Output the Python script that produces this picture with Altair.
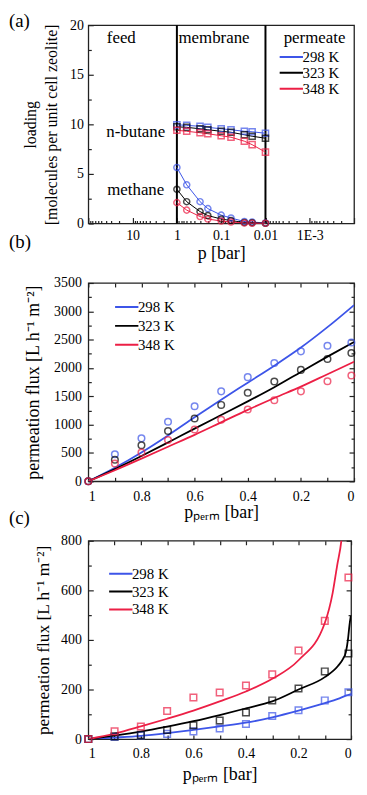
import altair as alt
import pandas as pd

FONT = "Liberation Serif"
TEMPS = ["298 K", "323 K", "348 K"]
COLORS = ["#3d55e8", "#000000", "#ec1f45"]

# ---------------- panel (a): loading profiles ----------------
p_a = [1, 0.6, 0.3, 0.2, 0.1, 0.06, 0.03, 0.02, 0.01]
butane_298 = [9.95, 9.9, 9.8, 9.7, 9.55, 9.45, 9.3, 9.25, 9.1]
butane_323 = [9.75, 9.7, 9.55, 9.45, 9.3, 9.2, 8.95, 8.8, 8.6]
butane_348 = [9.4, 9.3, 9.15, 9.05, 8.85, 8.7, 8.3, 7.95, 7.2]
methane_298 = [5.65, 3.9, 2.2, 1.5, 0.85, 0.55, 0.2, 0.15, 0.05]
methane_323 = [3.45, 2.2, 1.2, 0.8, 0.45, 0.3, 0.1, 0.08, 0.03]
methane_348 = [2.1, 1.35, 0.7, 0.45, 0.25, 0.15, 0.05, 0.03, 0.02]
boundaries_a = [1, 0.01]
region_labels = ["feed", "membrane", "permeate"]
region_p = [18, 0.145, 0.00078]
region_y = [18.7, 18.7, 18.7]
species_labels = ["n-butane", "methane"]
species_p = [8.5, 8.5]
species_y = [9.27, 3.33]

# ---------------- panel (b): circles + model lines ----------------
p_b = [1, 0.9, 0.8, 0.7, 0.6, 0.5, 0.4, 0.3, 0.2, 0.1, 0.01]
flux_b_298 = [0, 478, 758, 1050, 1324, 1587, 1838, 2088, 2293, 2392, 2450]
flux_b_323 = [0, 379, 636, 887, 1108, 1348, 1563, 1762, 1966, 2158, 2263]
flux_b_348 = [0, 315, 508, 729, 915, 1085, 1266, 1429, 1587, 1767, 1867]
p_line_b = [1, 0.9, 0.8, 0.7, 0.6, 0.5, 0.4, 0.3, 0.2, 0.1, 0]
model_b_298 = [0, 240, 510, 810, 1130, 1440, 1740, 2040, 2360, 2720, 3110]
model_b_323 = [0, 215, 445, 685, 930, 1170, 1410, 1660, 1930, 2200, 2460]
model_b_348 = [0, 195, 400, 610, 820, 1040, 1260, 1470, 1670, 1890, 2110]

# ---------------- panel (c): squares + model lines ----------------
p_c = [1, 0.9, 0.8, 0.7, 0.6, 0.5, 0.4, 0.3, 0.2, 0.1, 0.01]
flux_c_298 = [0, 9, 15, 21, 31, 43, 61, 93, 116, 156, 189]
flux_c_323 = [0, 11, 17, 37, 56, 75, 107, 156, 204, 273, 345]
flux_c_348 = [0, 31, 51, 113, 168, 188, 216, 261, 357, 477, 652]
p_line_c_298 = [1, 0.9, 0.8, 0.7, 0.6, 0.5, 0.4, 0.3, 0.2, 0.1, 0.05, 0.02, 0]
model_c_298 = [0, 6, 13, 24, 37, 51, 66, 88, 115, 145, 162, 175, 182]
p_line_c_323 = [1, 0.9, 0.8, 0.7, 0.6, 0.5, 0.4, 0.3, 0.2, 0.1, 0.05, 0.03, 0.02, 0.012, 0.006, 0.001]
model_c_323 = [0, 14, 30, 50, 72, 97, 124, 152, 200, 250, 295, 325, 350, 400, 460, 497]
p_line_c_348 = [1, 0.9, 0.8, 0.7, 0.6, 0.5, 0.4, 0.3, 0.2, 0.1, 0.07, 0.053, 0.037, 0.034]
model_c_348 = [0, 22, 51, 82, 115, 152, 192, 243, 318, 468, 590, 700, 800, 830]

W, H = 268, 200
WC = 265
LINE_PATH = "M-3.2,0H3.2"


def long_df(xs, series):
    rows = []
    for t, vals in zip(TEMPS, series):
        for x, v in zip(xs, vals):
            rows.append({"p": x, "v": v, "T": t})
    return pd.DataFrame(rows)


def major_size(test, major=5, minor=3):
    return {"condition": {"test": test, "value": major}, "value": minor}


def color_enc(legend=None):
    return alt.Color("T:N", scale=alt.Scale(domain=TEMPS, range=COLORS), legend=legend)


def make_legend(x, y, row_h):
    return alt.Legend(
        title=None, orient="none", legendX=x, legendY=y,
        symbolType=LINE_PATH, symbolSize=100, symbolStrokeWidth=2,
        labelFont=FONT, labelFontSize=15, labelColor="black",
        clipHeight=row_h, rowPadding=0, labelOffset=8, padding=0,
    )


def panel_label(txt, y):
    return alt.Chart(pd.DataFrame({"t": [txt]})).mark_text(
        font=FONT, fontSize=19, align="left", baseline="middle", color="black"
    ).encode(x=alt.value(-80), y=alt.value(y), text="t:N")


# ============ panel (a) ============
rows = []
for t, b, m in zip(TEMPS, [butane_298, butane_323, butane_348], [methane_298, methane_323, methane_348]):
    for p, v in zip(p_a, b):
        rows.append({"p": p, "v": v, "T": t, "species": "n-butane"})
    for p, v in zip(p_a, m):
        rows.append({"p": p, "v": v, "T": t, "species": "methane"})
df_a = pd.DataFrame(rows)

xs_a = alt.Scale(type="log", domain=[1e-4, 100], reverse=True)
ys_a = alt.Scale(domain=[0, 20])
log_ticks = [m * 10.0 ** e for e in range(-4, 2) for m in range(1, 10)] + [100]
log_major = "abs(log(datum.value)/LN10 - round(log(datum.value)/LN10)) < 0.001"

ax_a_bottom = alt.Axis(
    orient="bottom", values=[10, 1, 0.1, 0.01, 0.001], ticks=False, domain=False,
    labelExpr="datum.value < 0.005 ? '1E-3' : format(datum.value, '')",
    labelPadding=5, title="p [bar]", titleY=30, titleBaseline="middle",
)
ax_a_left = alt.Axis(
    orient="left", values=[0, 5, 10, 15, 20], format="d", ticks=False, domain=False, labelPadding=5,
    title=["loading", "[molecules per unit cell zeolite]"], titleLineHeight=21, titleFontSize=16,
    titleX=-58, titleY=H / 2, titleBaseline="middle", titleAngle=-90,
)
ax_a_bottom_ticks = alt.Axis(
    orient="top", offset=-H, values=log_ticks, labels=False, domain=False, title=None,
    tickSize=major_size(log_major, 6, 3),
)
ax_a_left_ticks = alt.Axis(
    orient="right", offset=-W, values=[i * 2.5 for i in range(9)], labels=False, domain=False,
    title=None, tickSize=major_size("datum.value % 5 == 0", 5, 3),
)

rules_a = alt.Chart(pd.DataFrame({"p": boundaries_a})).mark_rule(color="black", strokeWidth=2).encode(
    x=alt.X("p:Q", scale=xs_a, axis=None)
)
lines_a = alt.Chart(df_a).mark_line(strokeWidth=1).encode(
    x=alt.X("p:Q", scale=xs_a, axis=ax_a_bottom),
    y=alt.Y("v:Q", scale=ys_a, axis=ax_a_left),
    color=color_enc(make_legend(193, 26.5, 11)),
    detail="species:N",
)
points_a = alt.Chart(df_a).mark_point(filled=False, size=38, strokeWidth=1.5).encode(
    x=alt.X("p:Q", scale=xs_a, axis=ax_a_bottom_ticks),
    y=alt.Y("v:Q", scale=ys_a, axis=ax_a_left_ticks),
    color=color_enc(),
    shape=alt.Shape("species:N", scale=alt.Scale(domain=["n-butane", "methane"], range=["square", "circle"]), legend=None),
)
regions_a = alt.Chart(pd.DataFrame({"p": region_p, "v": region_y, "t": region_labels})).mark_text(
    font=FONT, fontSize=17, color="black", baseline="middle"
).encode(x=alt.X("p:Q", scale=xs_a, axis=None), y=alt.Y("v:Q", scale=ys_a, axis=None), text="t:N")
species_a = alt.Chart(pd.DataFrame({"p": species_p, "v": species_y, "t": species_labels})).mark_text(
    font=FONT, fontSize=17, color="black", baseline="middle"
).encode(x=alt.X("p:Q", scale=xs_a, axis=None), y=alt.Y("v:Q", scale=ys_a, axis=None), text="t:N")

panel_a = alt.layer(
    rules_a, lines_a, points_a, regions_a, species_a, panel_label("(a)", -4)
).resolve_axis(x="independent", y="independent").properties(width=W, height=H)


# ============ panels (b) and (c) ============
def flux_panel(df_pts, df_lines, width, ydom, yticks, ymajor_test, ylabels, title_x, title_size,
               xtitle_y, legend, label, label_y, shape):
    xs = alt.Scale(domain=[0, 1], reverse=True)
    ys = alt.Scale(domain=ydom)
    xt = [round(i * 0.1, 1) for i in range(11)]
    ax_bottom = alt.Axis(
        orient="bottom", values=[0, 0.2, 0.4, 0.6, 0.8, 1], ticks=False, domain=False,
        labelExpr="format(datum.value, '')", labelPadding=8,
        title="p\u209a\u2091\u1d63\u2098 [bar]", titleY=xtitle_y, titleBaseline="middle",
    )
    ax_left = alt.Axis(
        orient="left", values=ylabels, format="d", ticks=False, domain=False, labelPadding=7,
        title="permeation flux [L h\u207b\u00b9 m\u207b\u00b2]", titleFontSize=title_size,
        titleX=title_x, titleY=H / 2, titleBaseline="middle", titleAngle=-90,
    )
    ax_bt = alt.Axis(orient="top", offset=-H, values=xt, labels=False, domain=False, title=None, tickSize=4)
    ax_tt = alt.Axis(orient="bottom", offset=-H, values=xt, labels=False, domain=False, title=None, tickSize=4)
    ax_lt = alt.Axis(orient="right", offset=-width, values=yticks, labels=False, domain=False, title=None,
                     tickSize=major_size(ymajor_test, 5, 3))
    ax_rt = alt.Axis(orient="left", offset=-width, values=yticks, labels=False, domain=False, title=None,
                     tickSize=major_size(ymajor_test, 5, 3))

    lines = alt.Chart(df_lines).mark_line(strokeWidth=1.8, interpolate="monotone", clip=True).encode(
        x=alt.X("p:Q", scale=xs, axis=ax_bottom),
        y=alt.Y("v:Q", scale=ys, axis=ax_left),
        color=color_enc(legend),
    )
    pts = alt.Chart(df_pts).mark_point(shape=shape, filled=False, size=44, strokeWidth=1.5).encode(
        x=alt.X("p:Q", scale=xs, axis=ax_bt),
        y=alt.Y("v:Q", scale=ys, axis=ax_lt),
        color=color_enc(),
    )
    ghost = alt.Chart(df_pts).mark_point(opacity=0).encode(
        x=alt.X("p:Q", scale=xs, axis=ax_tt),
        y=alt.Y("v:Q", scale=ys, axis=ax_rt),
    )
    return alt.layer(lines, pts, ghost, panel_label(label, label_y)).resolve_axis(
        x="independent", y="independent"
    ).properties(width=width, height=H)


df_pb = long_df(p_b, [flux_b_298, flux_b_323, flux_b_348])
df_lb = long_df(p_line_b, [model_b_298, model_b_323, model_b_348])
panel_b = flux_panel(
    df_pb, df_lb, W, [0, 3500], [i * 250 for i in range(15)], "datum.value % 500 == 0",
    [i * 500 for i in range(8)], -55, 18, 32, make_legend(27, 15, 18.5), "(b)", -41, "circle",
)

rows = []
for t, xs_, vs_ in zip(TEMPS, [p_line_c_298, p_line_c_323, p_line_c_348], [model_c_298, model_c_323, model_c_348]):
    for x, v in zip(xs_, vs_):
        rows.append({"p": x, "v": v, "T": t})
df_lc = pd.DataFrame(rows)
df_pc = long_df(p_c, [flux_c_298, flux_c_323, flux_c_348])
panel_c = flux_panel(
    df_pc, df_lc, WC, [0, 800], [i * 100 for i in range(9)], "datum.value % 200 == 0",
    [0, 200, 400, 600, 800], -45, 17.5, 36, make_legend(21, 24.5, 17.5), "(c)", -23, "square",
)

chart = alt.vconcat(panel_a, panel_b, panel_c, spacing=60, bounds="flush").resolve_scale(
    color="independent"
).configure(
    padding={"left": 0, "top": 0, "right": 0, "bottom": 0},
).configure_view(
    stroke="#222222", strokeWidth=1.3
).configure_axis(
    grid=False, labelFont=FONT, labelFontSize=14, labelColor="black",
    titleFont=FONT, titleFontSize=18, titleColor="black", titleFontWeight="normal",
    tickColor="#222222", tickWidth=1.2,
)

chart.save("out.html", embed_options={"renderer": "svg", "actions": False})
